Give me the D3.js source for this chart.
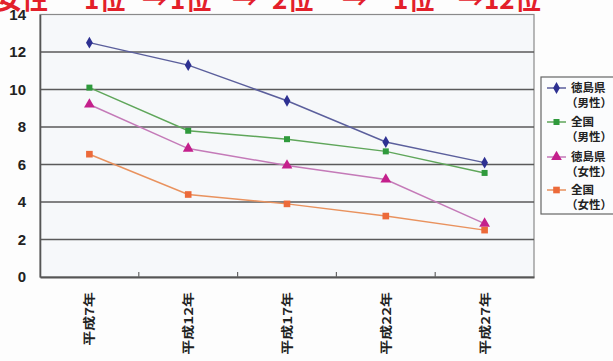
<!DOCTYPE html>
<html><head><meta charset="utf-8">
<script src="https://cdn.jsdelivr.net/npm/d3@7"></script>
<style>body{margin:0;background:#fdfdfd}svg{display:block}</style>
</head><body>
<svg id="c" width="613" height="361"></svg>
<script>
const categories = ["平成7年","平成12年","平成17年","平成22年","平成27年"];
const seriesNames = ["徳島県（男性）","全国（男性）","徳島県（女性）","全国（女性）"];
const tokushimaMale = [12.5, 11.3, 9.4, 7.2, 6.1];
const nationalMale = [10.1, 7.8, 7.35, 6.7, 5.55];
const tokushimaFemale = [9.2, 6.85, 5.95, 5.2, 2.85];
const nationalFemale = [6.55, 4.4, 3.9, 3.25, 2.5];
const yTicks = [0,2,4,6,8,10,12,14];
const titleParts = ["女性","1位","→","1位","→","2位","→","1位","→","12位"];

const series = [
  {name: seriesNames[0], values: tokushimaMale, line:"#5b5f9c", fill:"#2e3192", sym: d3.symbolDiamond, size: 40},
  {name: seriesNames[1], values: nationalMale, line:"#5fa65a", fill:"#2f9a3c", sym: d3.symbolSquare, size: 36},
  {name: seriesNames[2], values: tokushimaFemale, line:"#c47ab8", fill:"#c4208c", sym: d3.symbolTriangle, size: 50},
  {name: seriesNames[3], values: nationalFemale, line:"#e9925e", fill:"#ec6a3a", sym: d3.symbolSquare, size: 44}
];

const svg = d3.select("#c");
const L = 40, R = 534, T = 14.5, B = 277;
const x = d3.scaleBand().domain(categories).range([L, R]);
const y = d3.scaleLinear().domain([0, 14]).range([B, T]);

// title (cut off at top)
const titleX = [-4, 84, 142, 170, 232, 272, 342, 393, 458, 484];
const tt = svg.append("text").attr("y", 9).attr("fill", "#e3202a")
  .attr("font-family", "Noto Sans CJK JP").attr("font-weight", "bold").attr("font-size", 26);
titleParts.forEach((p, i) => tt.append("tspan").attr("x", titleX[i]).text(p));

// plot background
svg.append("rect").attr("x", L).attr("y", T).attr("width", R - L).attr("height", B - T)
  .attr("fill", "#f6f8fa").attr("stroke", "#8a8a8a").attr("stroke-width", 1.2);

// gridlines
svg.append("g").selectAll("line").data(yTicks.filter(v => v > 0 && v < 14)).join("line")
  .attr("x1", L).attr("x2", R).attr("y1", d => y(d)).attr("y2", d => y(d))
  .attr("stroke", "#5a5a5a").attr("stroke-width", 1.6);

// axes
const yAxis = svg.append("g").attr("transform", `translate(${L},0)`)
  .call(d3.axisLeft(y).tickValues(yTicks).tickSize(0).tickPadding(14));
yAxis.select(".domain").attr("stroke", "#555").attr("stroke-width", 1.6);
yAxis.selectAll("text").attr("font-family", "Liberation Sans").attr("font-weight", "bold")
  .attr("font-size", 15).attr("fill", "#222");

const xAxis = svg.append("g").attr("transform", `translate(0,${B})`)
  .call(d3.axisBottom(x).tickSize(0).tickFormat(""));
xAxis.select(".domain").attr("stroke", "#555").attr("stroke-width", 1.8);
// category boundary ticks
svg.append("g").selectAll("line").data(categories.slice(1)).join("line")
  .attr("x1", d => x(d)).attr("x2", d => x(d)).attr("y1", B - 5).attr("y2", B)
  .attr("stroke", "#666").attr("stroke-width", 1.2);

// x labels rotated
svg.append("g").selectAll("text").data(categories).join("text")
  .attr("transform", d => `translate(${x(d) + x.bandwidth()/2 + 5},292) rotate(-90) scale(1,0.8)`)
  .attr("text-anchor", "end")
  .attr("font-family", "Noto Sans CJK JP").attr("font-weight", "bold").attr("font-size", 15)
  .attr("fill", "#222").text(d => d);

// lines and markers
const line = d3.line().x((d, i) => x(categories[i]) + x.bandwidth()/2).y(d => y(d));
series.forEach(s => {
  svg.append("path").datum(s.values).attr("d", line).attr("fill", "none")
    .attr("stroke", s.line).attr("stroke-width", 1.5);
});
series.forEach(s => {
  svg.append("g").selectAll("path").data(s.values).join("path")
    .attr("transform", (d, i) => `translate(${x(categories[i]) + x.bandwidth()/2},${y(d)})`)
    .attr("d", d3.symbol().type(s.sym).size(s.size)).attr("fill", s.fill);
});

// legend
const lg = svg.append("g");
lg.append("rect").attr("x", 541).attr("y", 77).attr("width", 90).attr("height", 137)
  .attr("fill", "#fbfcfd").attr("stroke", "#666").attr("stroke-width", 1.2);
const rowY = [88, 122, 157, 190];
series.forEach((s, i) => {
  const yy = rowY[i];
  lg.append("line").attr("x1", 547).attr("x2", 566).attr("y1", yy).attr("y2", yy)
    .attr("stroke", s.line).attr("stroke-width", 1.5);
  lg.append("path").attr("transform", `translate(556.5,${yy})`)
    .attr("d", d3.symbol().type(s.sym).size(s.size)).attr("fill", s.fill);
  const m = s.name.match(/^(.*?)(（.*）)$/);
  lg.append("text").attr("x", 571).attr("y", yy + 4)
    .attr("font-family", "Noto Sans CJK JP").attr("font-weight", "bold")
    .attr("font-size", 11.5).attr("fill", "#222").text(m[1]);
  lg.append("text").attr("x", 566).attr("y", yy + 19)
    .attr("font-family", "Noto Sans CJK JP").attr("font-weight", "bold")
    .attr("font-size", 11.5).attr("fill", "#222").text(m[2]);
});
</script>
</body></html>
